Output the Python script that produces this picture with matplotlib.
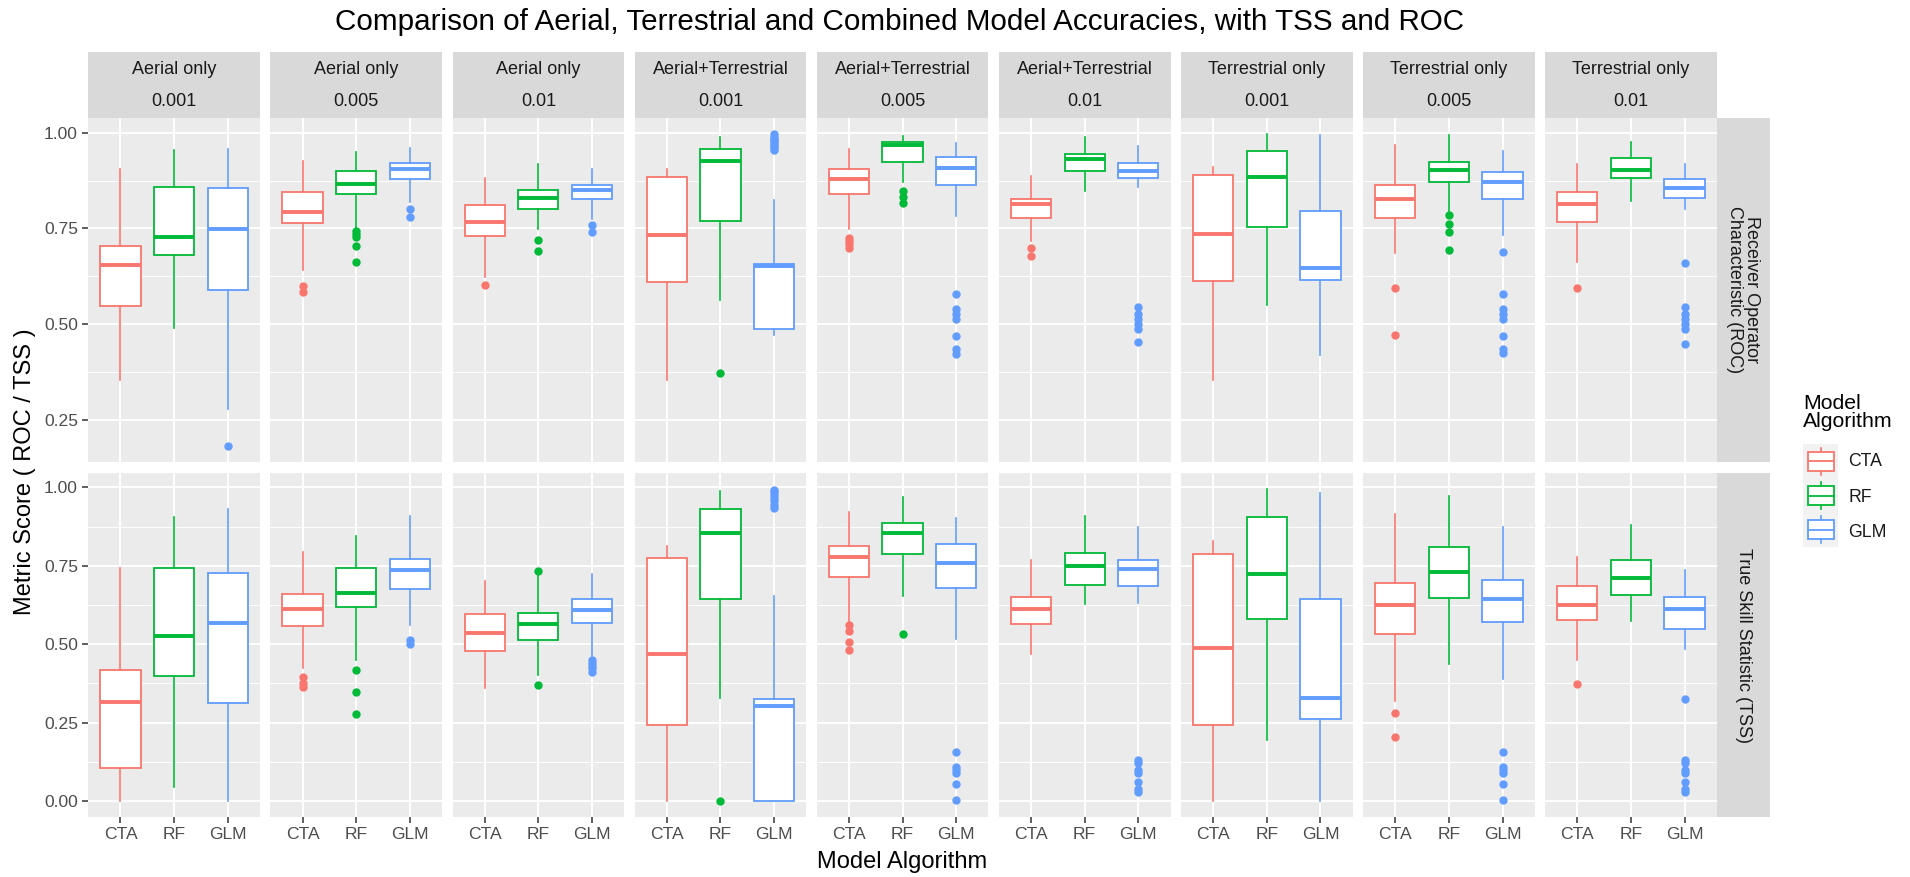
import numpy as np
import matplotlib
matplotlib.use("Agg")
import matplotlib.pyplot as plt
from matplotlib.patches import Rectangle
from matplotlib.ticker import FixedLocator

plt.rcParams['font.family'] = ['Liberation Sans', 'DejaVu Sans']

sources = ["Aerial only"] * 3 + ["Aerial+Terrestrial"] * 3 + ["Terrestrial only"] * 3
thresholds = ["0.001", "0.005", "0.01"] * 3
algorithms = ["CTA", "RF", "GLM"]
colors = ["#F8766D", "#00BA38", "#619CFF"]
metric_names = ["Receiver Operator\nCharacteristic (ROC)", "True Skill Statistic (TSS)"]

# box summaries, one row per panel, columns CTA / RF / GLM
roc_lo = [[0.355, 0.490, 0.277], [0.642, 0.752, 0.818], [0.622, 0.748, 0.774],
          [0.355, 0.562, 0.472], [0.748, 0.870, 0.783], [0.718, 0.849, 0.857],
          [0.355, 0.550, 0.420], [0.686, 0.792, 0.733], [0.661, 0.822, 0.802]]
roc_q1 = [[0.547, 0.680, 0.589], [0.765, 0.839, 0.878], [0.729, 0.800, 0.827],
          [0.609, 0.769, 0.488], [0.839, 0.924, 0.863], [0.777, 0.901, 0.881],
          [0.612, 0.753, 0.616], [0.776, 0.870, 0.826], [0.768, 0.881, 0.830]]
roc_med = [[0.655, 0.728, 0.748], [0.792, 0.865, 0.904], [0.768, 0.830, 0.850],
           [0.733, 0.926, 0.652], [0.880, 0.967, 0.907], [0.814, 0.931, 0.899],
           [0.735, 0.885, 0.647], [0.826, 0.903, 0.872], [0.814, 0.903, 0.856]]
roc_q3 = [[0.703, 0.859, 0.855], [0.846, 0.901, 0.921], [0.812, 0.851, 0.863],
          [0.885, 0.957, 0.656], [0.905, 0.976, 0.937], [0.826, 0.944, 0.921],
          [0.890, 0.952, 0.796], [0.863, 0.924, 0.898], [0.844, 0.933, 0.878]]
roc_hi = [[0.906, 0.954, 0.957], [0.926, 0.950, 0.961], [0.883, 0.918, 0.906],
          [0.906, 0.989, 0.825], [0.957, 0.992, 0.972], [0.887, 0.989, 0.965],
          [0.911, 0.996, 0.993], [0.969, 0.993, 0.952], [0.918, 0.976, 0.918]]
roc_out = [
    [[], [], [0.181]],
    [[0.599, 0.583], [0.744, 0.735, 0.727, 0.703, 0.663], [0.800, 0.780]],
    [[0.601], [0.719, 0.691], [0.759, 0.740]],
    [[], [0.372], [0.997, 0.99, 0.985, 0.98, 0.975, 0.97, 0.965, 0.96, 0.955]],
    [[0.724, 0.716, 0.710, 0.700], [0.847, 0.832, 0.816],
     [0.578, 0.540, 0.527, 0.514, 0.469, 0.436, 0.423]],
    [[0.698, 0.679], [], [0.544, 0.527, 0.514, 0.501, 0.488, 0.453]],
    [[], [], []],
    [[0.594, 0.472], [0.785, 0.761, 0.741, 0.694],
     [0.688, 0.578, 0.540, 0.527, 0.514, 0.469, 0.436, 0.425]],
    [[0.594], [], [0.660, 0.544, 0.527, 0.514, 0.501, 0.488, 0.449]],
]

tss_lo = [[0.0, 0.046, 0.0], [0.424, 0.451, 0.560], [0.361, 0.401, 0.464],
          [0.0, 0.327, 0.0], [0.571, 0.655, 0.517], [0.470, 0.627, 0.632],
          [0.0, 0.194, 0.0], [0.318, 0.438, 0.390], [0.451, 0.574, 0.484]]
tss_q1 = [[0.104, 0.400, 0.314], [0.557, 0.618, 0.676], [0.477, 0.513, 0.567],
          [0.242, 0.643, 0.0], [0.714, 0.789, 0.680], [0.566, 0.689, 0.685],
          [0.242, 0.579, 0.263], [0.533, 0.647, 0.571], [0.576, 0.657, 0.547]]
tss_med = [[0.316, 0.526, 0.569], [0.611, 0.664, 0.736], [0.536, 0.564, 0.608],
           [0.469, 0.856, 0.304], [0.778, 0.855, 0.759], [0.611, 0.750, 0.740],
           [0.488, 0.725, 0.327], [0.626, 0.730, 0.645], [0.626, 0.712, 0.611]]
tss_q3 = [[0.419, 0.743, 0.727], [0.661, 0.742, 0.772], [0.595, 0.600, 0.643],
          [0.775, 0.932, 0.325], [0.813, 0.885, 0.818], [0.652, 0.790, 0.767],
          [0.786, 0.905, 0.643], [0.695, 0.809, 0.705], [0.685, 0.767, 0.652]]
tss_hi = [[0.743, 0.905, 0.930], [0.795, 0.844, 0.910], [0.701, 0.719, 0.724],
          [0.814, 0.987, 0.653], [0.920, 0.968, 0.901], [0.769, 0.910, 0.873],
          [0.830, 0.995, 0.982], [0.915, 0.971, 0.873], [0.777, 0.881, 0.735]]
tss_out = [
    [[], [], []],
    [[0.395, 0.377, 0.364], [0.419, 0.348, 0.277], [0.512, 0.502]],
    [[], [0.733, 0.371], [0.449, 0.440, 0.432, 0.424, 0.412]],
    [[], [0.0], [0.993, 0.985, 0.975, 0.965, 0.955, 0.945, 0.935]],
    [[0.560, 0.541, 0.507, 0.480], [0.533], [0.157, 0.109, 0.099, 0.088, 0.056, 0.003]],
    [[], [], [0.130, 0.120, 0.099, 0.088, 0.062, 0.040, 0.030]],
    [[], [], []],
    [[0.281, 0.205], [], [0.157, 0.109, 0.099, 0.088, 0.056, 0.003]],
    [[0.374], [], [0.325, 0.130, 0.120, 0.099, 0.088, 0.062, 0.040, 0.030]],
]

rows = [
    (roc_lo, roc_q1, roc_med, roc_q3, roc_hi, roc_out, [0.25, 0.50, 0.75, 1.00]),
    (tss_lo, tss_q1, tss_med, tss_q3, tss_hi, tss_out, [0.00, 0.25, 0.50, 0.75, 1.00]),
]

W, H = 1910, 877
fig = plt.figure(figsize=(W / 100, H / 100), dpi=100)


def rect(x0, y0, x1, y1):
    return [x0 / W, 1 - y1 / H, (x1 - x0) / W, (y1 - y0) / H]


px0, pw, gap = 88.3, 171.7, 10.4
row_y = [(118.3, 461.7), (473.3, 816.7)]
strip_r = (1716.7, 1770.0)
tick_col = "#4D4D4D"

for r, (lo, q1, med, q3, hi, out, yt) in enumerate(rows):
    vals = [v for p in (lo, hi) for row in p for v in row]
    vals += [v for panel in out for grp in panel for v in grp]
    vmin, vmax = min(vals), max(vals)
    pad = 0.05 * (vmax - vmin)
    ylim = (vmin - pad, vmax + pad)
    minors = [t + 0.125 for t in yt[:-1]] + [yt[0] - 0.125]
    minors = [m for m in minors if ylim[0] < m < ylim[1]]
    y0, y1 = row_y[r]
    for p in range(9):
        x0 = px0 + p * (pw + gap)
        ax = fig.add_axes(rect(x0, y0, x0 + pw, y1))
        ax.set_facecolor("#EBEBEB")
        for s in ax.spines.values():
            s.set_visible(False)
        ax.set_axisbelow(True)
        stats = [dict(whislo=lo[p][k], q1=q1[p][k], med=med[p][k], q3=q3[p][k],
                      whishi=hi[p][k], fliers=out[p][k]) for k in range(3)]
        bp = ax.bxp(stats, positions=[1, 2, 3], widths=0.75, patch_artist=True,
                    showcaps=False, manage_ticks=False)
        for k, c in enumerate(colors):
            bp['boxes'][k].set(facecolor="white", edgecolor=c, linewidth=1.3)
            bp['medians'][k].set(color=c, linewidth=2.8, solid_capstyle="butt")
            for w in bp['whiskers'][2 * k:2 * k + 2]:
                w.set(color=c, linewidth=1.2)
            bp['fliers'][k].set(marker="o", markerfacecolor=c, markeredgecolor=c,
                                markersize=5, linestyle="none")
        ax.set_xlim(0.4, 3.6)
        ax.set_ylim(*ylim)
        ax.set_xticks([1, 2, 3])
        ax.set_yticks(yt)
        ax.yaxis.set_minor_locator(FixedLocator(minors))
        ax.grid(which="major", color="white", linewidth=1.4)
        ax.grid(which="minor", axis="y", color="white", linewidth=0.7)
        ax.tick_params(which="minor", length=0)
        ax.tick_params(axis="both", colors="#333333", width=1.1, length=4,
                       labelcolor=tick_col, labelsize=12.6, pad=3.5)
        if r == 1:
            ax.set_xticklabels(algorithms)
        else:
            ax.tick_params(axis="x", length=0, labelbottom=False)
        if p == 0:
            ax.set_yticklabels(["%.2f" % t for t in yt])
        else:
            ax.tick_params(axis="y", length=0, labelleft=False)

        if r == 0:
            # two stacked strips: data source, then threshold
            fig.patches.append(Rectangle((x0 / W, 1 - y0 / H), pw / W, 66.3 / H,
                                         transform=fig.transFigure,
                                         facecolor="#D9D9D9", edgecolor="none"))
            cx = (x0 + pw / 2) / W
            fig.text(cx, 1 - 69.0 / H, sources[p], ha="center", va="center",
                     fontsize=13.0, color="#1A1A1A")
            fig.text(cx, 1 - 102.0 / H, thresholds[p], ha="center", va="center",
                     fontsize=13.0, color="#1A1A1A")

    # row strip on the right
    fig.patches.append(Rectangle((strip_r[0] / W, 1 - y1 / H),
                                 (strip_r[1] - strip_r[0]) / W, (y1 - y0) / H,
                                 transform=fig.transFigure,
                                 facecolor="#D9D9D9", edgecolor="none"))
    fig.text((strip_r[0] + strip_r[1]) / 2 / W, 1 - (y0 + y1) / 2 / H, metric_names[r],
             rotation=-90, ha="center", va="center", fontsize=13.0, color="#1A1A1A",
             multialignment="center", linespacing=1.0)

# titles
fig.text(900.0 / W, 1 - 22.0 / H,
         "Comparison of Aerial, Terrestrial and Combined Model Accuracies, with TSS and ROC",
         ha="center", va="center", fontsize=21.3, color="black")
fig.text(902.5 / W, 1 - 862.0 / H, "Model Algorithm", ha="center", va="center",
         fontsize=17.0, color="black")
fig.text(25.0 / W, 1 - 472.0 / H, "Metric Score ( ROC / TSS )", rotation=90,
         ha="center", va="center", fontsize=17.0, color="black")

# legend
fig.text(1803.3 / W, 1 - 412.5 / H, "Model\nAlgorithm", ha="left", va="center",
         fontsize=15.3, color="black", linespacing=0.95)
leg = fig.add_axes(rect(1803.3, 444.3, 1837.7, 546.7))
leg.set_facecolor("#F2F2F2")
leg.set_xlim(0, 1)
leg.set_ylim(3, 0)
leg.axis("off")
leg.add_patch(Rectangle((0, 0), 1, 3, facecolor="#F2F2F2", edgecolor="none"))
for k, c in enumerate(colors):
    yc = k + 0.5
    leg.add_patch(Rectangle((0.15, yc - 0.27), 0.74, 0.54, facecolor="white",
                            edgecolor=c, linewidth=1.3))
    leg.plot([0.15, 0.89], [yc, yc], color=c, linewidth=1.3)
    leg.plot([0.52, 0.52], [yc - 0.40, yc - 0.27], color=c, linewidth=1.2)
    leg.plot([0.52, 0.52], [yc + 0.27, yc + 0.40], color=c, linewidth=1.2)
    fig.text(1848.0 / W, 1 - (461.7 + k * 35.5) / H, algorithms[k], ha="left",
             va="center", fontsize=12.7, color="#1A1A1A")

fig.savefig("out.png", dpi=100)
